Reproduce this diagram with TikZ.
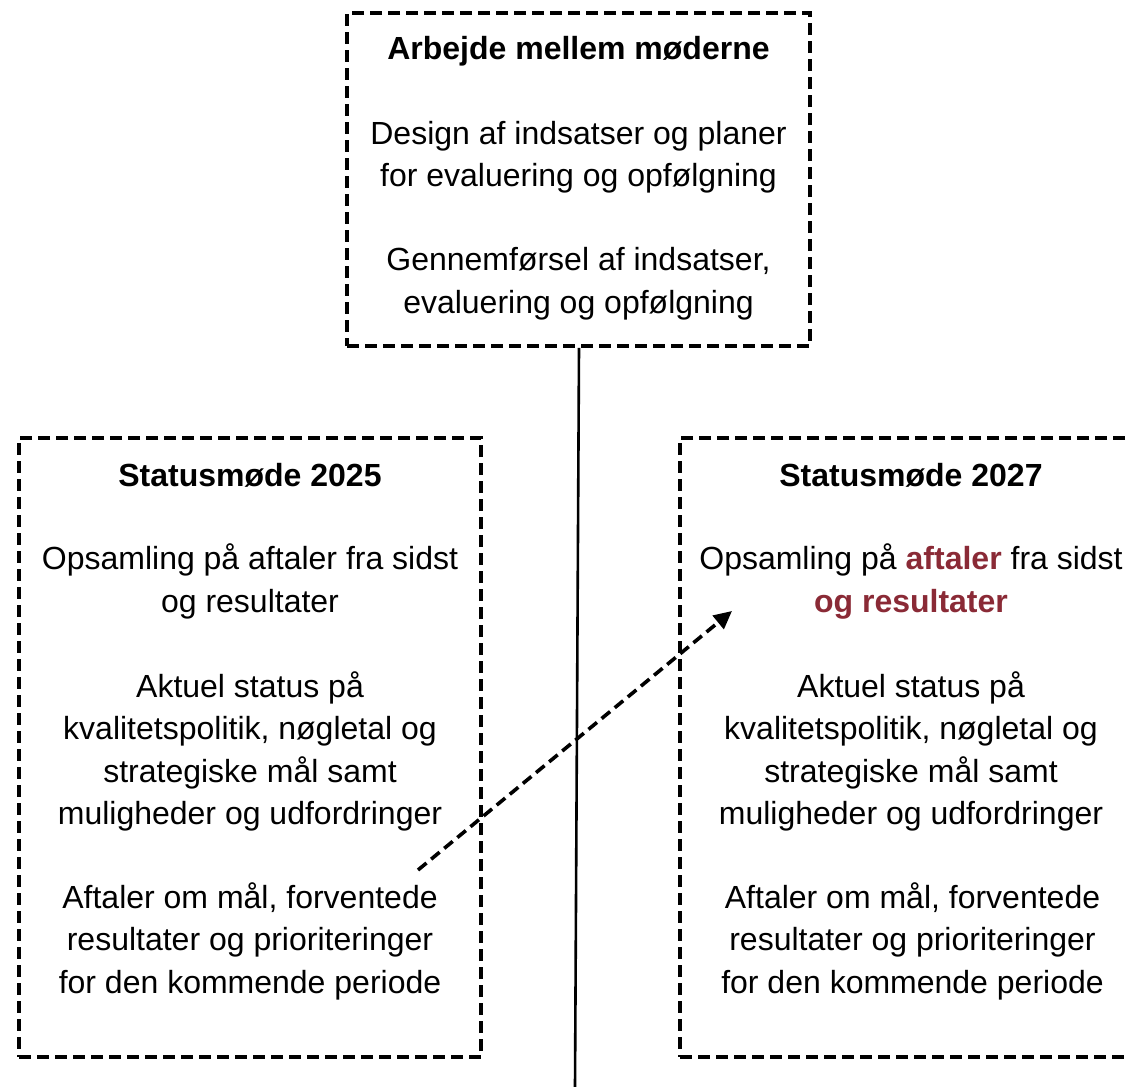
\documentclass[tikz,border=0pt]{standalone}
\usepackage{fontspec}
\setmainfont{Liberation Sans}
\usetikzlibrary{arrows.meta}
\definecolor{accent}{HTML}{8A2A36}
\begin{document}
\begin{tikzpicture}[x=1pt,y=-1pt,
  box/.style={draw=black, line width=3.6pt, dash pattern=on 12pt off 6pt, inner sep=0pt},
  txt/.style={align=center, font=\fontsize{32}{42.5}\selectfont, inner sep=0pt},
  ttl/.style={txt, font=\fontsize{32}{42.5}\selectfont\bfseries},
  conn/.style={line width=2.6pt},
  darrow/.style={line width=3.6pt, dash pattern=on 11pt off 6pt, -{Triangle[length=18pt,width=17pt]}}]
\useasboundingbox (0,0) rectangle (1130,1087);
\clip (0,0) rectangle (1130,1087);
% boxes
\node[box, minimum width=463pt, minimum height=333pt] (top) at (578.5,179.5) {};
\node[box, minimum width=462pt, minimum height=619pt] (left) at (250,747.5) {};
\node[box, minimum width=462pt, minimum height=619pt] (right) at (911,747.5) {};
% top box text
\node[ttl] (ttop) at (578.5,51.5) {Arbejde mellem møderne};
\node[txt] (t1) at (578.5,157) {Design af indsatser og planer\\for evaluering og opfølgning};
\node[txt] (t2) at (578.5,283.5) {Gennemførsel af indsatser,\\evaluering og opfølgning};
% left box text
\node[ttl] (tleft) at (250,475.5) {Statusmøde 2025};
\node[txt] (l1) at (250,581.5) {Opsamling på aftaler fra sidst\\og resultater};
\node[txt] (l2) at (250,751.5) {Aktuel status på\\kvalitetspolitik, nøgletal og\\strategiske mål samt\\muligheder og udfordringer};
\node[txt] (l3) at (250,941) {Aftaler om mål, forventede\\resultater og prioriteringer\\for den kommende periode};
% right box text
\node[ttl] (tright) at (911,475.5) {Statusmøde 2027};
\node[txt] (r1) at (911,581.5) {Opsamling på {\bfseries\color{accent}aftaler} fra sidst\\{\bfseries\color{accent}og resultater}};
\node[txt] (r2) at (911,751.5) {Aktuel status på\\kvalitetspolitik, nøgletal og\\strategiske mål samt\\muligheder og udfordringer};
\node[txt] (r3) at (912.5,941) {Aftaler om mål, forventede\\resultater og prioriteringer\\for den kommende periode};
% connectors
\coordinate (lineend) at (575,1087);
\path (top.south) ++(0.5,0) coordinate (linestart);
\draw[conn] (linestart) -- (lineend);
\coordinate (astart) at (418,870);
\coordinate (aend) at (732,611);
\draw[darrow] (astart) -- (aend);
\end{tikzpicture}
\end{document}
